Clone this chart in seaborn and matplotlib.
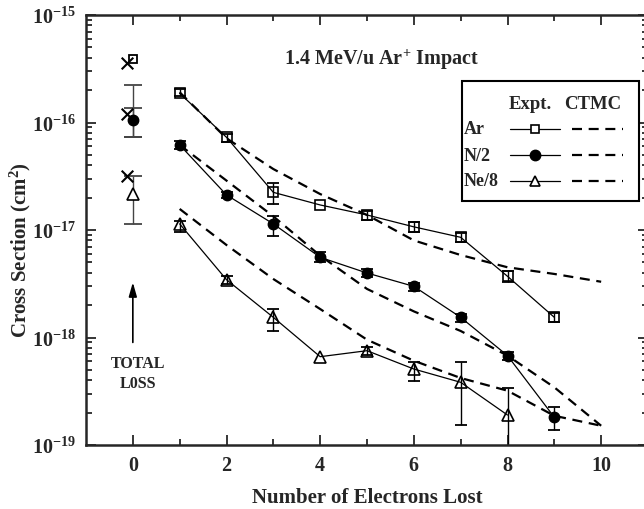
import numpy as np
import matplotlib
matplotlib.use("Agg")
import matplotlib.pyplot as plt
from matplotlib.lines import Line2D
from matplotlib.patches import Rectangle
from matplotlib.ticker import FixedLocator, LogLocator, FuncFormatter, NullFormatter
import seaborn as sns

# ---------------- data ----------------
electrons = [1, 2, 3, 4, 5, 6, 7, 8, 9]

ar_expt = [1.87e-16, 7.28e-17, 2.24e-17, 1.71e-17, 1.38e-17, 1.07e-17, 8.55e-18, 3.71e-18, 1.54e-18]
ar_lo = [1.75e-16, 6.55e-17, 1.75e-17, np.nan, 1.25e-17, 9.64e-18, 7.78e-18, 3.26e-18, 1.40e-18]
ar_hi = [2.05e-16, 7.81e-17, 2.72e-17, np.nan, 1.51e-17, 1.18e-17, 9.37e-18, 4.18e-18, 1.69e-18]

n2_expt = [6.18e-17, 2.12e-17, 1.14e-17, 5.57e-18, 3.98e-18, 2.99e-18, 1.54e-18, 6.78e-19, 1.81e-19]
n2_lo = [5.66e-17, 1.97e-17, 8.85e-18, 5.07e-18, 3.63e-18, 2.72e-18, 1.40e-18, 6.21e-19, 1.39e-19]
n2_hi = [6.78e-17, 2.27e-17, 1.36e-17, 6.19e-18, 4.33e-18, 3.21e-18, 1.66e-18, 7.28e-19, 2.24e-19]

ne_x = [1, 2, 3, 4, 5, 6, 7, 8]
ne8_expt = [1.14e-17, 3.45e-18, 1.54e-18, 6.63e-19, 7.54e-19, 5.09e-19, 3.83e-19, 1.90e-19]
ne8_lo = [9.53e-18, 3.15e-18, 1.14e-18, np.nan, 6.87e-19, 3.96e-19, 1.53e-19, 9.0e-20]
ne8_hi = [1.22e-17, 3.76e-18, 1.84e-18, np.nan, 8.11e-19, 5.88e-19, 5.88e-19, 3.39e-19]

ctmc_x = [1, 2, 3, 4, 5, 6, 7, 8, 9, 10]
ar_ctmc = [1.91e-16, 7.13e-17, 3.69e-17, 2.16e-17, 1.38e-17, 8.0e-18, 5.85e-18, 4.50e-18, 3.90e-18, 3.30e-18]
n2_ctmc = [6.18e-17, 2.88e-17, 1.34e-17, 5.77e-18, 2.83e-18, 1.75e-18, 1.15e-18, 6.78e-19, 3.44e-19, 1.51e-19]
ne8_ctmc = [1.57e-17, 7.25e-18, 3.50e-18, 1.84e-18, 9.54e-19, 6.08e-19, 4.20e-19, 3.20e-19, 1.87e-19, 1.51e-19]

# total loss (plotted at 0 electrons)
total_x_expt = [0, 0, 0]
total_x_ctmc = [-0.12, -0.12, -0.12]
total_expt = [3.90e-16, 1.06e-16, 2.16e-17]        # Ar, N/2, Ne/8
total_ctmc = [3.58e-16, 1.20e-16, 3.20e-17]
total_n2_err = [7.28e-17, 2.25e-16]               # outer bar
total_n2_err_inner = [7.28e-17, 1.36e-16]
total_ne8_err = [1.14e-17, 3.20e-17]
arrow_range = [9.0e-19, 3.26e-18]

xticks_major = [0, 2, 4, 6, 8, 10]
xticks_minor = [1, 3, 5, 7, 9]
yticks_major = [1e-19, 1e-18, 1e-17, 1e-16, 1e-15]

# ---------------- style ----------------
sns.set_style("ticks")
plt.rcParams.update({
    "font.family": ["Liberation Serif", "DejaVu Serif"],
    "font.weight": "bold",
    "mathtext.fontset": "custom",
    "mathtext.rm": "Liberation Serif:bold",
    "mathtext.it": "Liberation Serif:bold",
    "mathtext.bf": "Liberation Serif:bold",
    "mathtext.default": "rm",
    "axes.linewidth": 1.6,
})

fig = plt.figure(figsize=(6.44, 5.10), dpi=100)
ax = fig.add_axes([86 / 644, 64 / 510, 562 / 644, 430 / 510])
ax.set_yscale("log")

K = "black"
dash = (0, (4.5, 3))


def err(y, lo, hi):
    y = np.asarray(y, float)
    return [y - np.asarray(lo, float), np.asarray(hi, float) - y]


# experiment
sns.lineplot(x=electrons, y=ar_expt, ax=ax, color=K, lw=0.9, marker="s", ms=6.5,
             mfc="none", mec=K, mew=1.2, zorder=3)
sns.lineplot(x=electrons, y=n2_expt, ax=ax, color=K, lw=0.9, marker="o", ms=7.5,
             mfc=K, mec=K, mew=1.0, zorder=3)
sns.lineplot(x=ne_x, y=ne8_expt, ax=ax, color=K, lw=0.9, marker="^", ms=8,
             mfc="none", mec=K, mew=1.2, zorder=3)

for xs, ys, lo, hi in [(electrons, ar_expt, ar_lo, ar_hi),
                       (electrons, n2_expt, n2_lo, n2_hi),
                       (ne_x, ne8_expt, ne8_lo, ne8_hi)]:
    ax.errorbar(xs, ys, yerr=err(ys, lo, hi), fmt="none", ecolor=K,
                elinewidth=1.0, capsize=4.5, capthick=1.3, zorder=2)

# CTMC
for ys in (ar_ctmc, n2_ctmc, ne8_ctmc):
    sns.lineplot(x=ctmc_x, y=ys, ax=ax, color=K, lw=1.6, linestyle=dash, zorder=2)

# total loss
ax.errorbar([0], [total_expt[1]], yerr=err([total_expt[1]], [total_n2_err[0]], [total_n2_err[1]]),
            fmt="none", ecolor="#444444", elinewidth=1.0, capsize=6.5, capthick=1.3)
ax.errorbar([0], [total_expt[1]], yerr=err([total_expt[1]], [total_n2_err_inner[0]], [total_n2_err_inner[1]]),
            fmt="none", ecolor="#444444", elinewidth=1.0, capsize=6.5, capthick=1.3)
ax.errorbar([0], [total_expt[2]], yerr=err([total_expt[2]], [total_ne8_err[0]], [total_ne8_err[1]]),
            fmt="none", ecolor="#444444", elinewidth=1.0, capsize=6.5, capthick=1.3)
ax.plot(total_x_expt[0], total_expt[0], ls="none", marker="s", ms=6, mfc="none", mec=K, mew=1.3, zorder=4)
ax.plot(total_x_expt[1], total_expt[1], ls="none", marker="o", ms=7.5, mfc=K, mec=K, zorder=4)
ax.plot(total_x_expt[2], total_expt[2], ls="none", marker="^", ms=8, mfc="white", mec=K, mew=1.2, zorder=4)
sns.scatterplot(x=total_x_ctmc, y=total_ctmc, ax=ax, marker="x", s=70, color=K, linewidth=1.5, zorder=5)

ax.annotate("", xy=(0, arrow_range[1]), xytext=(0, arrow_range[0]),
            arrowprops=dict(arrowstyle="-|>,head_length=0.7,head_width=0.2", color=K, lw=1.2,
                            mutation_scale=12, shrinkA=0, shrinkB=0))
ax.text(0.0925, 0.167, "TOTAL\nL0SS", transform=ax.transAxes, ha="center", va="center",
        fontsize=11.5, fontweight="bold", linespacing=1.35)

# axes
ax.set_xlim(-1, 11)
ax.set_ylim(1e-19, 1e-15)
ax.xaxis.set_major_locator(FixedLocator(xticks_major))
ax.xaxis.set_minor_locator(FixedLocator(xticks_minor))
ax.yaxis.set_major_locator(FixedLocator(yticks_major))
ax.yaxis.set_minor_locator(LogLocator(base=10, subs=np.arange(2, 10), numticks=10))
ax.yaxis.set_major_formatter(FuncFormatter(lambda v, _: "10$^{%d}$" % int(round(np.log10(v)))))
ax.yaxis.set_minor_formatter(NullFormatter())
ax.tick_params(which="both", direction="in", top=True, right=True, width=1.3,
               labelsize=14.5, pad=7)
ax.tick_params(which="major", length=7)
ax.tick_params(which="minor", length=4.5)
for lab in ax.get_xticklabels() + ax.get_yticklabels():
    lab.set_fontweight("bold")
for s in ax.spines.values():
    s.set_linewidth(1.8)

ax.set_xlabel("Number of Electrons Lost", fontsize=15, fontweight="bold")
ax.set_ylabel("Cross Section (cm$^{2}$)", fontsize=15, fontweight="bold")
ax.xaxis.set_label_coords(0.501, -0.098)
ax.yaxis.set_label_coords(-0.095, 0.456)

ax.text(0.5267, 0.899, "1.4 MeV/u Ar$^{+}$ Impact", transform=ax.transAxes,
        ha="center", va="center", fontsize=14.5, fontweight="bold")

# legend (drawn by hand in axes coordinates)
tr = ax.transAxes
ax.add_patch(Rectangle((0.6696, 0.5681), 0.9842 - 0.6696, 0.8458 - 0.5681, transform=tr,
                       fill=False, ec=K, lw=1.5, zorder=6))
ax.text(0.790, 0.7953, "Expt.", transform=tr, ha="center", va="center", fontsize=13.5)
ax.text(0.902, 0.7953, "CTMC", transform=tr, ha="center", va="center", fontsize=13.5)
rows = [("Ar", 0.7349, dict(marker="s", ms=6, mfc="white", mew=1.2)),
        ("N/2", 0.6744, dict(marker="o", ms=7.5, mfc=K)),
        ("Ne/8", 0.6140, dict(marker="^", ms=7.5, mfc="white", mew=1.2))]
for label, yy, mk in rows:
    ax.text(0.6725, yy, label, transform=tr, ha="left", va="center", fontsize=13)
    ax.add_line(Line2D([0.7544, 0.8434], [yy, yy], transform=tr, color=K, lw=0.9, zorder=7))
    ax.add_line(Line2D([0.7989], [yy], transform=tr, color=K, ls="none", mec=K, zorder=8, **mk))
    ax.add_line(Line2D([0.8642, 0.9560], [yy, yy], transform=tr, color=K, lw=1.6,
                       linestyle=dash, zorder=7))

fig.savefig("out.png", dpi=100)
